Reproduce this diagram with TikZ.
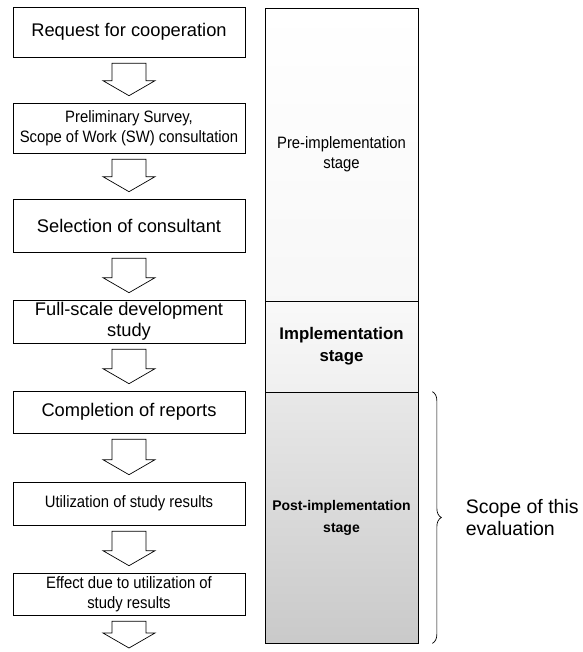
\documentclass[tikz,border=0pt]{standalone}
\usepackage{fontspec}
\setmainfont{Liberation Sans}
\newfontfamily\narrowfont[FakeStretch=0.9]{Liberation Sans}
\usetikzlibrary{calc, positioning, decorations.pathreplacing}

% hollow block arrow from one box to the next
\newcommand{\flowarrow}[2]{%
  \path[blockarrow] let \p1=(#1.south), \p2=(#2) in
    (\x1-17pt,\y1-6pt) -- (\x1+17pt,\y1-6pt) -- (\x1+17pt,\y2+22pt) -- (\x1+26pt,\y2+22pt)
    -- (\x1,\y2+7pt) -- (\x1-26pt,\y2+22pt) -- (\x1-17pt,\y2+22pt) -- cycle;}

\begin{document}
\begin{tikzpicture}[x=1pt, y=-1pt,
    box/.style={draw, line width=0.6pt, minimum width=232pt, align=center, inner sep=0pt},
    big/.style={font=\fontsize{18.3}{20.5}\selectfont},
    small/.style={font=\narrowfont\fontsize{16.5}{20}\selectfont},
    blockarrow/.style={draw, line width=0.7pt, fill=white, line join=miter},
    stage/.style={draw, line width=0.7pt, minimum width=153pt, align=center, inner sep=0pt}]

	\useasboundingbox (0,0) rectangle (582,652);

	% flow of the study
	\node[box, big, minimum height=50pt] (req) at (129,32) {Request for cooperation};
	\node[box, small, minimum height=50pt] (prel) at (129,128) {Preliminary Survey,\\Scope of Work (SW) consultation};
	\node[box, big, minimum height=53pt] (sel) at (129,225.5) {Selection of consultant};
	\node[box, big, minimum height=43pt] (full) at (129,321.5) {Full-scale development\\study};
	\node[box, big, minimum height=42pt] (comp) at (129,412) {Completion of reports};
	\node[box, small, minimum height=43pt] (util) at (129,503.5) {Utilization of study results};
	\node[box, small, minimum height=42pt] (eff) at (129,594) {Effect due to utilization of\\study results};
	\coordinate (end) at (129,655);

	\flowarrow{req}{prel.north}
	\flowarrow{prel}{sel.north}
	\flowarrow{sel}{full.north}
	\flowarrow{full}{comp.north}
	\flowarrow{comp}{util.north}
	\flowarrow{util}{eff.north}
	\flowarrow{eff}{end}

	% stages
	\node[stage, minimum height=293pt, font=\narrowfont\fontsize{16.5}{20}\selectfont,
	      top color=white, bottom color=gray!6] (pre) at (341.5,154.5) {Pre-implementation\\stage};
	\node[stage, minimum height=91pt, font=\bfseries\fontsize{16.8}{22}\selectfont,
	      top color=gray!5, bottom color=gray!12] (impl) at (341.5,346.5) {Implementation\\stage};
	\node[stage, minimum height=251pt, font=\bfseries\fontsize{14}{22}\selectfont,
	      top color=gray!18, bottom color=gray!42] (post) at (341.5,517.5) {Post-implementation\\stage};

	\draw[decorate, decoration={brace, amplitude=9pt}, line width=0.7pt]
		($(post.north east)+(14,0)$) -- ($(post.south east)+(14,0)$) coordinate[midway] (bmid);
	\node[right=30pt of bmid, align=left, font=\fontsize{19.5}{22}\selectfont] (scope) {Scope of this\\evaluation};

\end{tikzpicture}
\end{document}
